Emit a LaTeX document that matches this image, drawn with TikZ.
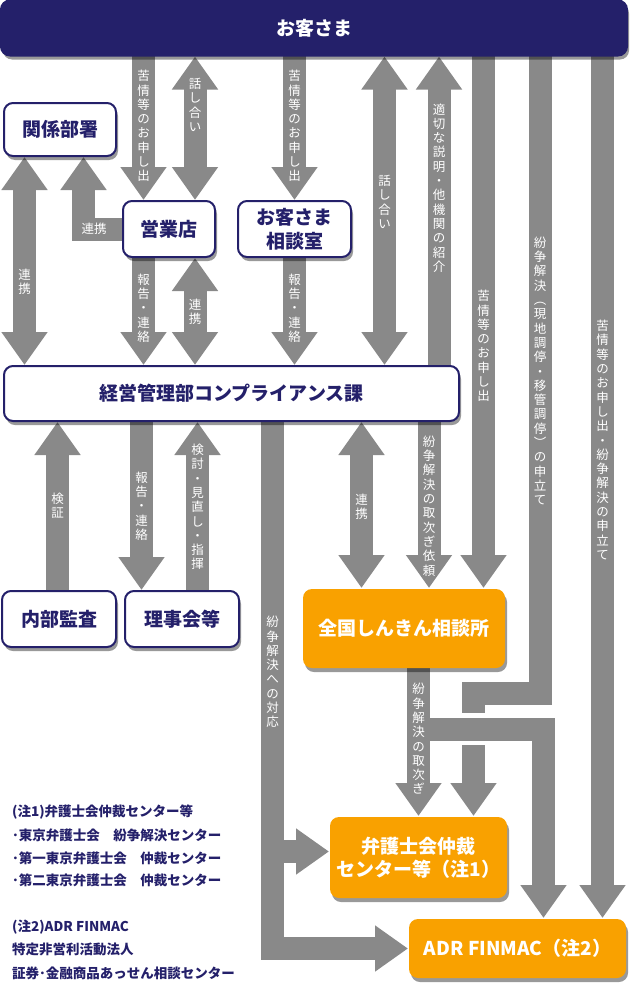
\documentclass[tikz,border=0pt]{standalone}
\usepackage{fontspec}
\newfontfamily\jp{Noto Sans CJK JP}
\usetikzlibrary{arrows.meta,shadows,calc}
\definecolor{navy}{HTML}{24206A}
\definecolor{orng}{HTML}{F9A100}
\definecolor{arrc}{HTML}{898989}
\pgfdeclarelayer{bg}
\pgfsetlayers{bg,main}
\begin{document}
\begin{tikzpicture}[x=1pt,y=-1pt,
  box/.style={draw=navy, line width=2pt, fill=white, rounded corners=9pt, text=navy,
    font=\jp\bfseries\fontsize{19}{24}\selectfont, align=center, inner sep=0pt,
    drop shadow={shadow xshift=2pt, shadow yshift=-4pt, fill=black, opacity=0.4}},
  obox/.style={box, draw=none, fill=orng, text=white},
  arw/.style={draw=arrc, line width=23pt, line join=miter, >={Triangle[width=44pt,length=33pt]}},
  ext/.style={shorten <=-4pt},
  lab/.style={text=white, font=\jp\fontsize{12.5}{14.3}\selectfont, align=center, inner sep=0pt},
  note/.style={anchor=west, text=navy, font=\jp\bfseries\fontsize{13.5}{16}\selectfont, inner sep=0pt}]
\useasboundingbox (0,0) rectangle (630,985);

% boxes
\node[box, minimum width=626pt, minimum height=55pt, fill=navy, text=white] (bar) at (314,28) {お客さま};
\node[box, minimum width=112pt, minimum height=53pt] (kankei) at (60,129.5) {関係部署};
\node[box, minimum width=92pt, minimum height=56pt] (eigyo) at (169,229) {営業店};
\node[box, minimum width=113pt, minimum height=56pt] (soudan) at (294.5,229) {お客さま\\相談室};
\node[box, minimum width=455pt, minimum height=55pt] (keiei) at (231.5,393.5) {経営管理部コンプライアンス課};
\node[box, minimum width=114pt, minimum height=56pt] (naibu) at (59,619) {内部監査};
\node[box, minimum width=114pt, minimum height=56pt] (rijikai) at (182,619) {理事会等};
\node[obox, minimum width=202pt, minimum height=79pt] (zenkoku) at (404,628.5) {全国しんきん相談所};
\node[obox, minimum width=177pt, minimum height=81pt, font=\jp\bfseries\fontsize{19}{23}\selectfont] (bengo) at (418.5,857.5) {弁護士会仲裁\\センター等（注1）};
\node[obox, minimum width=217pt, minimum height=59pt] (adr) at (517.5,948.5) {ADR FINMAC（注2）};

% arrows
\begin{pgfonlayer}{bg}
\draw[arw,->,ext] (bar.south -| 143.5,0) -- (eigyo.north -| 143.5,0);
\draw[arw,<->] (bar.south -| 195,0) -- (eigyo.north -| 195,0);
\draw[arw,->,ext] (bar.south -| 294.5,0) -- (soudan.north -| 294.5,0);
\draw[arw,<->] (kankei.south -| 24.5,0) -- (keiei.north -| 24.5,0);
\draw[arw,->,ext] (eigyo.west) -| (kankei.south -| 83.5,0);
\draw[arw,->,ext] (eigyo.south -| 143.5,0) -- (keiei.north -| 143.5,0);
\draw[arw,<->] (eigyo.south -| 195,0) -- (keiei.north -| 195,0);
\draw[arw,->,ext] (soudan.south) -- (keiei.north -| soudan.south);
\draw[arw,<->] (bar.south -| 384.5,0) -- (keiei.north -| 384.5,0);
\draw[arw,->,ext] (keiei.north -| 439,0) -- (bar.south -| 439,0);
\draw[arw,->,ext] (bar.south -| 483.5,0) -- (zenkoku.north -| 483.5,0);
\draw[arw,->,ext] (bar.south -| 540,0) -- (540,693.5) -- (473.5,693.5) -- (bengo.north -| 473.5,0);
\draw[arw,->,ext] (bar.south -| 602.5,0) -- (adr.north -| 602.5,0);
\draw[arw,->,ext] (naibu.north -| 57.5,0) -- (keiei.south -| 57.5,0);
\draw[arw,->,ext] (keiei.south -| 141.5,0) -- (rijikai.north -| 141.5,0);
\draw[arw,->,ext] (rijikai.north -| 197.5,0) -- (keiei.south -| 197.5,0);
\draw[arw,->,ext] (keiei.south -| 272.5,0) |- (adr.west);
\draw[arw,->] (272.5,851.5) -- (bengo.west |- 0,851.5);
\draw[arw,<->] (keiei.south -| 361.5,0) -- (zenkoku.north -| 361.5,0);
\draw[arw,->,ext] (keiei.south -| 429,0) -- (zenkoku.north -| 429,0);
\draw[arw,->,ext] (zenkoku.south -| 418.5,0) -- (bengo.north -| 418.5,0);
\fill[white] (459,713) rectangle (488,745);
\draw[arw,->] (418.5,729) -| (adr.north -| 543.5,0);
\end{pgfonlayer}

% arrow labels
\node[lab] (l1) at (143.5,126) {苦\\情\\等\\の\\お\\申\\し\\出};
\node[lab] (l2) at (195,105) {話\\し\\合\\い};
\node[lab] (l3) at (294.5,126) {苦\\情\\等\\の\\お\\申\\し\\出};
\node[lab] (l4) at (24.5,282) {連\\携};
\node[lab] (l5) at (94,229) {連携};
\node[lab] (l6) at (143.5,308) {報\\告\\・\\連\\絡};
\node[lab] (l7) at (195,312) {連\\携};
\node[lab] (l8) at (294.5,308) {報\\告\\・\\連\\絡};
\node[lab] (l9) at (384.5,202) {話\\し\\合\\い};
\node[lab] (l10) at (439,188) {適\\切\\な\\説\\明\\・\\他\\機\\関\\の\\紹\\介};
\node[lab] (l11) at (483.5,346) {苦\\情\\等\\の\\お\\申\\し\\出};
\node[lab] (l12) at (540,371) {紛\\争\\解\\決\\︵\\現\\地\\調\\停\\・\\移\\管\\調\\停\\︶\\の\\申\\立\\て};
\node[lab] (l13) at (602.5,440) {苦\\情\\等\\の\\お\\申\\し\\出\\・\\紛\\争\\解\\決\\の\\申\\立\\て};
\node[lab] (l14) at (57.5,506) {検\\証};
\node[lab] (l15) at (141.5,506) {報\\告\\・\\連\\絡};
\node[lab] (l16) at (197.5,507) {検\\討\\・\\見\\直\\し\\・\\指\\揮};
\node[lab] (l17) at (272.5,672) {紛\\争\\解\\決\\へ\\の\\対\\応};
\node[lab] (l18) at (361.5,507) {連\\携};
\node[lab] (l19) at (429,506) {紛\\争\\解\\決\\の\\取\\次\\ぎ\\依\\頼};
\node[lab] (l20) at (418.5,739) {紛\\争\\解\\決\\の\\取\\次\\ぎ};

% notes
\node[note] (n1) at (12,812) {(注1)弁護士会仲裁センター等};
\node[note] (n2) at (12,835) {･東京弁護士会　紛争解決センター};
\node[note] (n3) at (12,858) {･第一東京弁護士会　仲裁センター};
\node[note] (n4) at (12,880) {･第二東京弁護士会　仲裁センター};
\node[note] (n5) at (12,927) {(注2)ADR FINMAC};
\node[note] (n6) at (12,949) {特定非営利活動法人};
\node[note] (n7) at (12,973) {証券･金融商品あっせん相談センター};
\end{tikzpicture}
\end{document}
